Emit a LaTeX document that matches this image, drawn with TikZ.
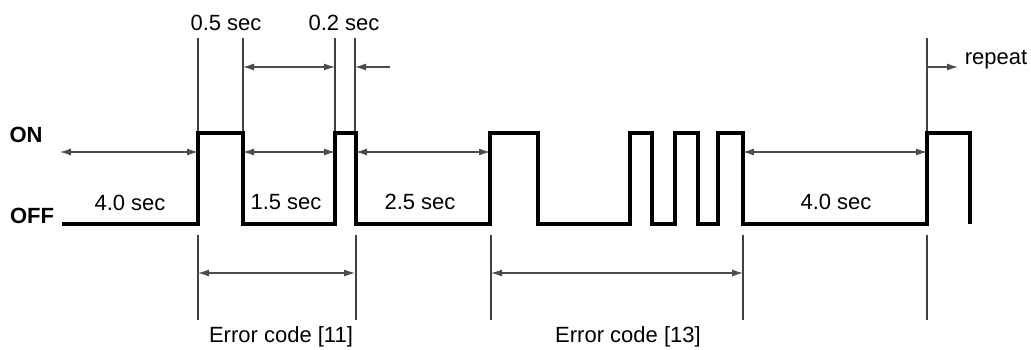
\documentclass[tikz,border=0pt]{standalone}
\usepackage{fontspec}
\setmainfont{Liberation Sans}
\usetikzlibrary{arrows.meta}
\begin{document}
\begin{tikzpicture}[x=1pt,y=-1pt,
  wave/.style={line width=3.8pt,line join=miter,line cap=butt},
  guide/.style={line width=1.5pt,draw=black!75},
  dim/.style={line width=1.1pt,draw=black!70,{Latex[length=11pt,width=7pt]}-{Latex[length=11pt,width=7pt]}},
  sdim/.style={line width=1.1pt,draw=black!70,-{Latex[length=11pt,width=7pt]}},
  lbl/.style={font=\fontsize{22}{26}\selectfont,anchor=base,inner sep=0pt},
  lvl/.style={font=\fontsize{22}{26}\selectfont\bfseries,anchor=base,inner sep=0pt}]
\useasboundingbox (0,0) rectangle (1031,350);
% waveform
\draw[wave] (62,224) -- (198,224) -- (198,133) -- (243,133) -- (243,224) -- (335,224) -- (335,133) -- (356,133) -- (356,224)
  -- (490,224) -- (490,133) -- (538,133) -- (538,224) -- (630,224) -- (630,133) -- (652,133) -- (652,224)
  -- (675,224) -- (675,133) -- (698,133) -- (698,224) -- (718,224) -- (718,133) -- (743,133) -- (743,224)
  -- (927,224) -- (927,133) -- (970,133) -- (970,224);
% guide lines
\foreach \n/\x in {a/198,b/243,c/335,d/355,e/927}{
  \coordinate (t\n1) at (\x,38); \coordinate (t\n2) at (\x,131);
  \draw[guide] (t\n1) -- (t\n2);}
\foreach \n/\x in {a/198,d/356,f/491,g/743,e/927}{
  \coordinate (b\n1) at (\x,235); \coordinate (b\n2) at (\x,320);
  \draw[guide] (b\n1) -- (b\n2);}
% dimension arrows
\coordinate (s0) at (60,152);
\coordinate (s1) at (198,152);
\coordinate (s2) at (243,152);
\coordinate (s3) at (335,152);
\coordinate (s4) at (356,152);
\coordinate (s5) at (490,152);
\coordinate (s6) at (743,152);
\coordinate (s7) at (927,152);
\draw[dim] (s0) -- (s1);
\draw[dim] (s2) -- (s3);
\draw[dim] (s4) -- (s5);
\draw[dim] (s6) -- (s7);
\coordinate (u1) at (243,67);
\coordinate (u2) at (335,67);
\coordinate (u3) at (390,67);
\coordinate (u4) at (355,67);
\draw[dim] (u1) -- (u2);
\draw[sdim] (u3) -- (u4);
\coordinate (r1) at (927,67);
\coordinate (r2) at (958,67);
\draw[sdim] (r1) -- (r2);
\coordinate (e1) at (198,273);
\coordinate (e2) at (355,273);
\coordinate (e3) at (491,273);
\coordinate (e4) at (743,273);
\draw[dim] (e1) -- (e2);
\draw[dim] (e3) -- (e4);
% labels
\node[lvl] (on) at (26,143) {ON};
\node[lvl] (off) at (32,223) {OFF};
\node[lbl] (l40a) at (130,210) {4.0 sec};
\node[lbl] (l05) at (226,31) {0.5 sec};
\node[lbl] (l02) at (344,31) {0.2 sec};
\node[lbl] (l15) at (286,209) {1.5 sec};
\node[lbl] (l25) at (420,209) {2.5 sec};
\node[lbl] (l40b) at (836,209) {4.0 sec};
\node[lbl] (rep) at (996,65) {repeat};
\node[lbl] (err11) at (281,342) {Error code [11]};
\node[lbl] (err13) at (628,342) {Error code [13]};
\end{tikzpicture}
\end{document}
